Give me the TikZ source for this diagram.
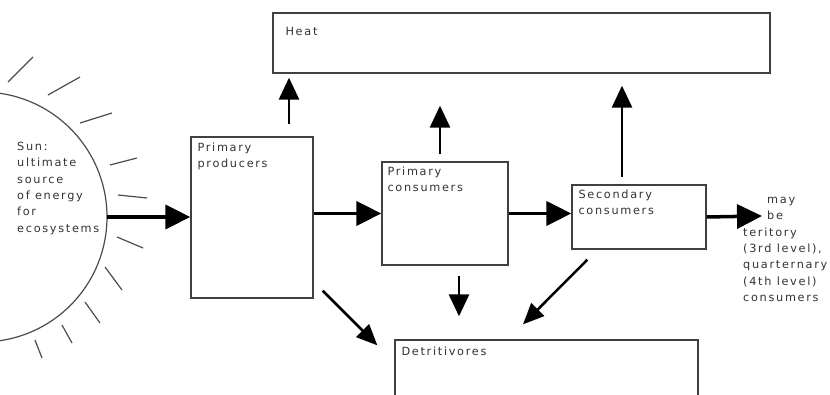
\documentclass[tikz,border=0pt]{standalone}
\usepackage{fontspec}
\setmainfont{DejaVu Sans}[LetterSpace=15]
\usepackage{tikz}
\usetikzlibrary{arrows.meta}

\begin{document}
\begin{tikzpicture}[x=1pt, y=1pt, >={Triangle[width=24pt,length=25pt]}, box/.style={draw=black!75, line width=1.3pt, inner sep=0pt}, lbl/.style={anchor=north west, align=left, inner sep=0pt, font=\fontsize{11.3}{16.3}\selectfont, text=black!80}, flow/.style={line width=3.5pt}, small/.style={line width=2.8pt, >={Triangle[width=20pt,length=22pt]}}, diag/.style={line width=2.5pt, >={Triangle[width=18pt,length=21pt]}}, ray/.style={draw=black!70, line width=1.2pt}]
\clip (0,0) rectangle (830,-395);
\fill[white] (0,0) rectangle (830,-395);
% sun
\draw[ray] (-18,-217) ++(82:125) arc (82:-82:125);
\foreach \ax/\ay/\bx/\by in {8/82/33/57, 48/95/80/77, 80/123/112/113, 110/165/137/158, 118/195/147/198, 117/237/143/248, 105/267/122/290, 85/302/100/323, 62/325/72/343, 35/340/42/358}
  \draw[ray] (\ax,-\ay) -- (\bx,-\by);
\coordinate (s) at (107,-217);
\coordinate (e) at (762,-216);
\draw (17pt, -142pt)node[lbl](5){Sun:\\ultimate\\source\\of energy\\for\\ecosystems};
\draw (521.5pt, -43.0pt)node[box, minimum width=497pt, minimum height=60pt, label={[lbl, xshift=13pt, yshift=-15pt]north west:Heat}](0){};
\draw (252.0pt, -217.5pt)node[box, minimum width=122pt, minimum height=161pt, label={[lbl, xshift=7pt, yshift=-6pt]north west:Primary\\producers}](1){};
\draw (445.0pt, -213.5pt)node[box, minimum width=126pt, minimum height=103pt, label={[lbl, xshift=6pt, yshift=-5pt]north west:Primary\\consumers}](2){};
\draw (639.0pt, -217.0pt)node[box, minimum width=134pt, minimum height=64pt, label={[lbl, xshift=7pt, yshift=-5pt]north west:Secondary\\consumers}](3){};
\draw (546.5pt, -380.0pt)node[box, minimum width=303pt, minimum height=80pt, label={[lbl, xshift=7pt, yshift=-7pt]north west:Detritivores}](4){};
\draw (743pt, -197pt)node[lbl](6){\hspace*{24pt}may\\\hspace*{24pt}be\\teritory\\(3rd level),\\quarternary\\(4th level)\\consumers};
% energy flow
\path[->] (s) edge[flow] (1.west |- s);
\path[->] (1.east |- 2) edge[flow] (2);
\path[->] (2.east) edge[flow] (3.west |- 2.east);
\path[->] (3.east) edge[flow] (e);
% heat
\path[->, small, shorten <=12pt, shorten >=4pt] ([xshift=37pt]1.north) edge ([xshift=37pt]1.north |- 0.south);
\path[->, small, shorten <=7pt, shorten >=32pt] ([xshift=-5pt]2.north) edge ([xshift=-5pt]2.north |- 0.south);
\path[->, small, shorten <=7pt, shorten >=12pt] ([xshift=-17pt]3.north) edge ([xshift=-17pt]3.north |- 0.south);
% detritivores
\path[->, diag] ([shift={(9pt,8pt)}]1.south east) edge ([shift={(-17pt,-6pt)}]4.north west);
\path[->, small, shorten <=10pt, shorten >=23pt] ([xshift=14pt]2.south) edge ([xshift=14pt]2.south |- 4.north);
\path[->, diag] ([shift={(16pt,-10pt)}]3.south west) edge ([shift={(-23.5pt,15pt)}]4.north);
\end{tikzpicture}
\end{document}
